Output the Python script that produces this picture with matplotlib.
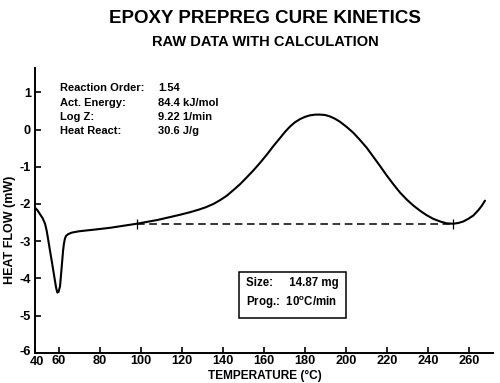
import matplotlib
matplotlib.use("Agg")
import matplotlib.pyplot as plt
from matplotlib.transforms import ScaledTranslation

plt.rcParams['font.family'] = ['Liberation Sans', 'DejaVu Sans']
plt.rcParams['font.weight'] = 'bold'
plt.rcParams['mathtext.fontset'] = 'custom'
plt.rcParams['mathtext.rm'] = 'Liberation Sans:bold'
plt.rcParams['mathtext.it'] = 'Liberation Sans:bold'
plt.rcParams['mathtext.bf'] = 'Liberation Sans:bold'

# Heat flow curve (temperature in degC, heat flow in mW)
temperature = [48.3, 49.5, 50.7, 52.0, 53.2, 54.0, 54.8, 55.6, 56.4, 57.2, 58.0, 58.6,
               59.2, 59.8, 60.5, 61.0, 61.6, 62.0, 62.4, 62.9, 63.4, 64.5, 66.2, 68.0,
               70.2, 77.0, 84.9, 92.0, 98.0, 103.0, 108.0, 113.5, 119.0, 124.0, 128.3,
               131.5, 135.3, 138.5, 141.8, 145.0, 148.3, 151.5, 154.8, 158.0, 161.3,
               164.5, 167.8, 170.3, 172.7, 175.0, 177.6, 180.0, 182.4, 185.0, 187.3,
               189.8, 192.2, 194.6, 197.0, 200.3, 203.6, 206.8, 210.1, 213.3, 216.6,
               219.8, 223.1, 226.3, 229.6, 232.8, 236.1, 239.3, 242.6, 245.9, 249.1,
               252.4, 254.8, 257.2, 259.6, 262.1, 264.5, 266.2, 267.8]
heat_flow = [-2.10, -2.17, -2.27, -2.38, -2.53, -2.72, -2.98, -3.25, -3.51, -3.78, -4.05, -4.25,
             -4.38, -4.36, -4.21, -3.90, -3.51, -3.25, -3.07, -2.93, -2.86, -2.81, -2.77, -2.75,
             -2.73, -2.69, -2.64, -2.58, -2.53, -2.48, -2.43, -2.36, -2.29, -2.22, -2.15,
             -2.09, -2.00, -1.90, -1.78, -1.63, -1.47, -1.29, -1.10, -0.90, -0.68,
             -0.45, -0.23, -0.06, 0.08, 0.19, 0.28, 0.34, 0.38, 0.40, 0.40,
             0.39, 0.35, 0.29, 0.21, 0.07, -0.09, -0.28, -0.49, -0.73, -0.98,
             -1.23, -1.47, -1.69, -1.88, -2.04, -2.18, -2.30, -2.40, -2.47, -2.52,
             -2.53, -2.51, -2.47, -2.40, -2.31, -2.17, -2.05, -1.91]

# Integration baseline
baseline_T = [98.0, 252.4]
baseline_hf = [-2.54, -2.54]

x_ticks = [48.3, 60, 80, 100, 120, 140, 160, 180, 200, 220, 240, 260]
x_tick_labels = ['40', '60', '80', '100', '120', '140', '160', '180', '200', '220', '240', '260']
y_ticks = [-6, -5, -4, -3, -2, -1, 0, 1]
y_tick_labels = ['-6', '-5', '-4', '-3', '-2', '-1', '0', '1']

params_labels = ['Reaction Order:', 'Act. Energy:', 'Log Z:', 'Heat React:']
params_values = ['1.54', '84.4 kJ/mol', '9.22 1/min', '30.6 J/g']

fig = plt.figure(figsize=(5.0, 3.83), dpi=100)
ax = fig.add_axes([0.07, 0.0785, 0.916, 0.7438])

ax.plot(temperature, heat_flow, color='black', lw=1.5,
        solid_capstyle='round', solid_joinstyle='round')
ax.plot(baseline_T, baseline_hf, color='black', lw=1.1, ls=(0, (5, 3)))
ax.plot(baseline_T, baseline_hf, ls='none', marker='|', color='black', ms=7, mew=0.9)

ax.set_xlim(48.3, 271.7)
ax.set_ylim(-6, 1.65)
ax.set_xticks(x_ticks)
ax.set_xticklabels(x_tick_labels)
ax.set_yticks(y_ticks)
ax.set_yticklabels(y_tick_labels)
ax.tick_params(direction='in', length=4, width=1.2, labelsize=9.2)
ax.tick_params(axis='x', pad=1.5)
ax.tick_params(axis='y', pad=3)
for lab in ax.get_xticklabels() + ax.get_yticklabels():
    lab.set_fontweight('bold')
# nudge the corner labels apart
xl0 = ax.get_xticklabels()[0]
xl0.set_transform(xl0.get_transform() + ScaledTranslation(2 / 100, -1 / 100, fig.dpi_scale_trans))
yl0 = ax.get_yticklabels()[0]
yl0.set_transform(yl0.get_transform() + ScaledTranslation(0, 2 / 100, fig.dpi_scale_trans))

for s in ['top', 'right']:
    ax.spines[s].set_visible(False)
for s in ['left', 'bottom']:
    ax.spines[s].set_linewidth(1.4)

fig.text(0.53, 0.953, 'EPOXY PREPREG CURE KINETICS', ha='center', va='center',
         fontsize=13.5, fontweight='bold')
fig.text(0.53, 0.89, 'RAW DATA WITH CALCULATION', ha='center', va='center',
         fontsize=10.5, fontweight='bold')

fig.text(0.53, 0.003, 'TEMPERATURE (°C)', ha='center', va='bottom',
         fontsize=8.6, fontweight='bold')
fig.text(0.02, 0.40, 'HEAT FLOW (mW)', rotation=90, ha='center', va='center',
         fontsize=9, fontweight='bold')

ys = [0.770, 0.731, 0.694, 0.658]
for lab, val, yy in zip(params_labels, params_values, ys):
    fig.text(0.12, yy, lab, ha='left', va='center', fontsize=8, fontweight='bold')
    fig.text(0.316, yy, val, ha='left', va='center', fontsize=8, fontweight='bold')

fig.text(0.492, 0.232, 'Size:     14.87 mg\nProg.:  10$^{\\rm o}$C/min', ha='left', va='center',
         fontsize=8.3, fontweight='bold', linespacing=1.45,
         bbox=dict(boxstyle='square,pad=0.6', fc='white', ec='black', lw=1.1))

fig.savefig('out.png', dpi=100)
